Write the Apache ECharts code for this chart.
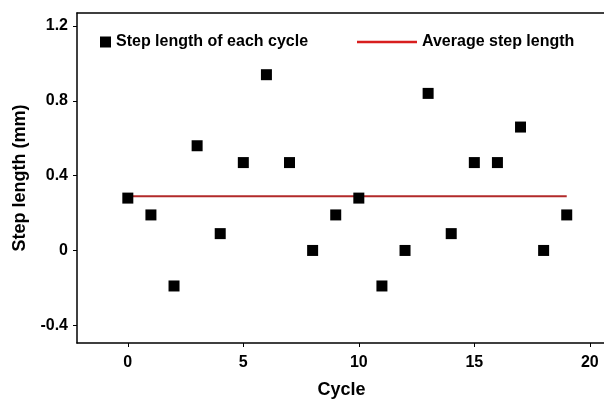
<!DOCTYPE html>
<html><head><meta charset="utf-8">
<script src="https://cdn.jsdelivr.net/npm/echarts@6/dist/echarts.min.js"></script>
<style>html,body{margin:0;padding:0;background:#fff}#c{width:604px;height:401px}</style>
</head><body><div id="c"></div>
<script>
const cycles = [0,1,2,3,4,5,6,7,8,9,10,11,12,13,14,15,16,17,18,19];
const stepLengths = [0.28,0.19,-0.19,0.56,0.09,0.47,0.94,0.47,0,0.19,0.28,-0.19,0,0.84,0.09,0.47,0.47,0.66,0,0.19];
const averageStep = 0.29;
const avgRange = [0, 19];
const xTicks = [0,5,10,15,20];
const yTicks = [-0.4,0,0.4,0.8,1.2];
const yTickLabels = ['-0.4','0','0.4','0.8','1.2'];

const font = 'Liberation Sans, Arial, sans-serif';
const legendText = {fontFamily:font,fontWeight:'bold',fontSize:16,color:'#000'};
const chart = echarts.init(document.getElementById('c'));
chart.setOption({
  animation:false,
  grid:{left:77,top:13,width:529,height:330,show:false,containLabel:false,outerBoundsMode:'none'},
  legend:[{
    top:29,left:95,itemWidth:11,itemHeight:11,itemGap:5,
    textStyle:legendText,
    data:[{name:'Step length of each cycle',icon:'rect',itemStyle:{color:'#000'}}]
  },{
    top:29,left:352,itemWidth:60,itemHeight:2.5,itemGap:6,
    textStyle:legendText,
    data:[{name:'Average step length',icon:'rect',itemStyle:{color:'#d81e1e'}}]
  }],
  xAxis:[{
    type:'value',min:-2.2,max:20.7,
    name:'Cycle',nameLocation:'middle',nameGap:38,
    nameTextStyle:{fontFamily:font,fontWeight:'bold',fontSize:18,color:'#000'},
    axisLine:{show:true,onZero:false,lineStyle:{color:'#000',width:1.5}},
    axisTick:{show:true,length:4,customValues:xTicks,lineStyle:{color:'#000'}},
    axisLabel:{customValues:xTicks,fontFamily:font,fontWeight:'bold',fontSize:16,color:'#000',margin:12},
    splitLine:{show:false}
  },{
    type:'value',position:'top',min:-2.2,max:20.7,
    axisLine:{show:true,onZero:false,lineStyle:{color:'#000',width:1.5}},
    axisTick:{show:false},axisLabel:{show:false},splitLine:{show:false}
  }],
  yAxis:{
    type:'value',min:-0.495,max:1.27,
    name:'Step length (mm)',nameLocation:'middle',nameGap:44,
    nameTextStyle:{fontFamily:font,fontWeight:'bold',fontSize:18,color:'#000'},
    axisLine:{show:true,onZero:false,lineStyle:{color:'#000',width:1.5}},
    axisTick:{show:true,length:4,customValues:yTicks,lineStyle:{color:'#000'}},
    axisLabel:{customValues:yTicks,formatter:v=>{const i=yTicks.findIndex(t=>Math.abs(t-v)<1e-6);return i>=0?yTickLabels[i]:'';},fontFamily:font,fontWeight:'bold',fontSize:16,color:'#000',margin:9},
    splitLine:{show:false}
  },
  series:[{
    name:'Step length of each cycle',type:'scatter',symbol:'rect',symbolSize:11,
    itemStyle:{color:'#000',opacity:1},
    data:cycles.map((c,i)=>[c,stepLengths[i]]),z:3
  },{
    name:'Average step length',type:'line',symbol:'none',
    lineStyle:{color:'#b22a2a',width:2},itemStyle:{color:'#b22a2a'},
    data:avgRange.map(x=>[x,averageStep]),z:2
  }]
});
</script></body></html>
